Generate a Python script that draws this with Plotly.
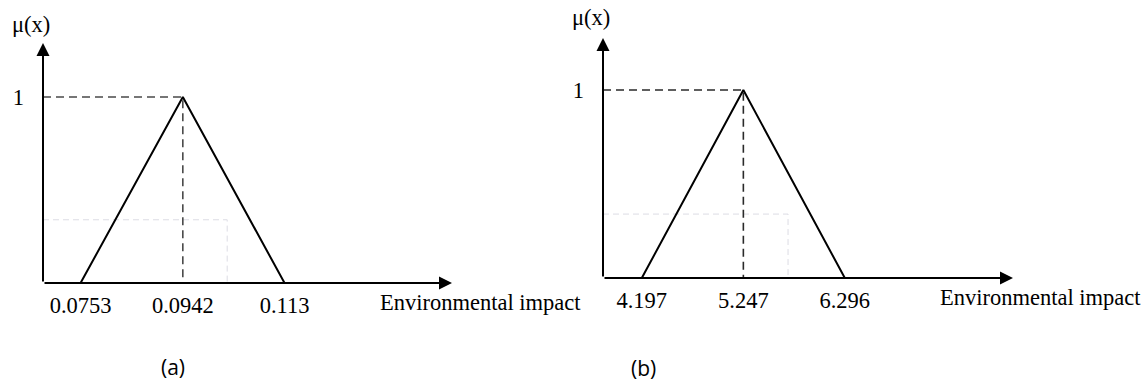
import plotly.graph_objects as go

W, H = 1146, 384

# ---- data ----
a_points = [0.0753, 0.0942, 0.113]
a_labels = ["0.0753", "0.0942", "0.113"]
a_membership = [0, 1, 0]
a_alpha = 0.34          # faint dashed level
a_alpha_x = 0.1024      # faint dashed cut position

b_points = [4.197, 5.247, 6.296]
b_labels = ["4.197", "5.247", "6.296"]
b_membership = [0, 1, 0]
b_alpha = 0.34
b_alpha_x = 5.709

x_title = "Environmental impact"
y_title = "μ(x)"
panel_labels = ["(a)", "(b)"]

# ---- layout geometry (pixels) ----
A = dict(x0=43, x1=452, y0=283, ytop=43, ypeak=97, xr=(0.068357, 0.14395))
B = dict(x0=603, x1=1013, y0=278, ytop=38, ypeak=90, xr=(3.7957, 8.035))

SERIF = "Liberation Serif, Times New Roman, serif"
SANS = "Open Sans, Liberation Sans, sans-serif"
FS = 22.5

fig = go.Figure()

def add_panel(idx, g, pts, labels, mem, alpha, alpha_x, dash_color):
    xa = "x" if idx == 1 else "x2"
    ya = "y" if idx == 1 else "y2"
    xmin, xmax = g["xr"]
    yunit = g["y0"] - g["ypeak"]
    ymax = (g["y0"] - g["ytop"]) / yunit
    peak_x = pts[mem.index(1)]

    # faint dashed guide
    fig.add_trace(go.Scatter(x=[xmin, alpha_x, alpha_x], y=[alpha, alpha, 0],
                             mode="lines", xaxis=xa, yaxis=ya,
                             line=dict(color="#dcdce4", width=1, dash="6px,4px"),
                             hoverinfo="skip", showlegend=False))
    # dashed guides to peak
    fig.add_trace(go.Scatter(x=[xmin, peak_x, peak_x], y=[1, 1, 0],
                             mode="lines", xaxis=xa, yaxis=ya,
                             line=dict(color=dash_color, width=1.6, dash="8px,5px"),
                             hoverinfo="skip", showlegend=False))
    # triangular membership function
    fig.add_trace(go.Scatter(x=pts, y=mem, mode="lines", xaxis=xa, yaxis=ya,
                             line=dict(color="black", width=2),
                             hoverinfo="skip", showlegend=False))

    xkey = "xaxis" if idx == 1 else "xaxis2"
    ykey = "yaxis" if idx == 1 else "yaxis2"
    fig.update_layout(**{
        xkey: dict(domain=[g["x0"] / W, g["x1"] / W], range=[xmin, xmax],
                   anchor=ya, showgrid=False, zeroline=False, showline=False,
                   tickvals=pts, ticktext=labels, ticks="",
                   ticklabelstandoff=6,
                   tickfont=dict(family=SERIF, size=FS, color="black")),
        ykey: dict(domain=[1 - g["y0"] / H, 1 - g["ytop"] / H], range=[0, ymax],
                   anchor=xa, showgrid=False, zeroline=False, showline=False,
                   tickvals=[1], ticktext=["1"], ticks="",
                   ticklabelstandoff=18,
                   tickfont=dict(family=SERIF, size=FS, color="black")),
    })

    # axis arrows
    for (hx, hy) in [(xmax, 0), (xmin, ymax)]:
        fig.add_annotation(x=hx, y=hy, ax=xmin, ay=0, xref=xa, yref=ya,
                           axref=xa, ayref=ya, text="", showarrow=True,
                           arrowhead=2, arrowsize=1.3, arrowwidth=2,
                           arrowcolor="black", standoff=0, startstandoff=0)

add_panel(1, A, a_points, a_labels, a_membership, a_alpha, a_alpha_x, "#4a4a4a")
add_panel(2, B, b_points, b_labels, b_membership, b_alpha, b_alpha_x, "#2a2a2a")

# texts
for (px, py) in [(31, 24), (591, 17)]:
    fig.add_annotation(x=px / W, y=1 - py / H, xref="paper", yref="paper",
                       text=y_title, showarrow=False, xanchor="center", yanchor="middle",
                       font=dict(family=SERIF, size=FS, color="black"))
for (px, py) in [(378, 302), (938, 297)]:
    fig.add_annotation(x=px / W, y=1 - py / H, xref="paper", yref="paper",
                       text=x_title, showarrow=False, xanchor="left", yanchor="middle",
                       font=dict(family=SERIF, size=FS, color="black"))
for lab, (px, py) in zip(panel_labels, [(173, 367), (643, 368)]):
    fig.add_annotation(x=px / W, y=1 - py / H, xref="paper", yref="paper",
                       text=lab, showarrow=False, xanchor="center", yanchor="middle",
                       font=dict(family=SANS, size=21, color="black"))

fig.update_layout(width=W, height=H, margin=dict(l=0, r=0, t=0, b=0),
                  paper_bgcolor="white", plot_bgcolor="white", showlegend=False)

fig.write_html("out.html", config={"displayModeBar": False})
